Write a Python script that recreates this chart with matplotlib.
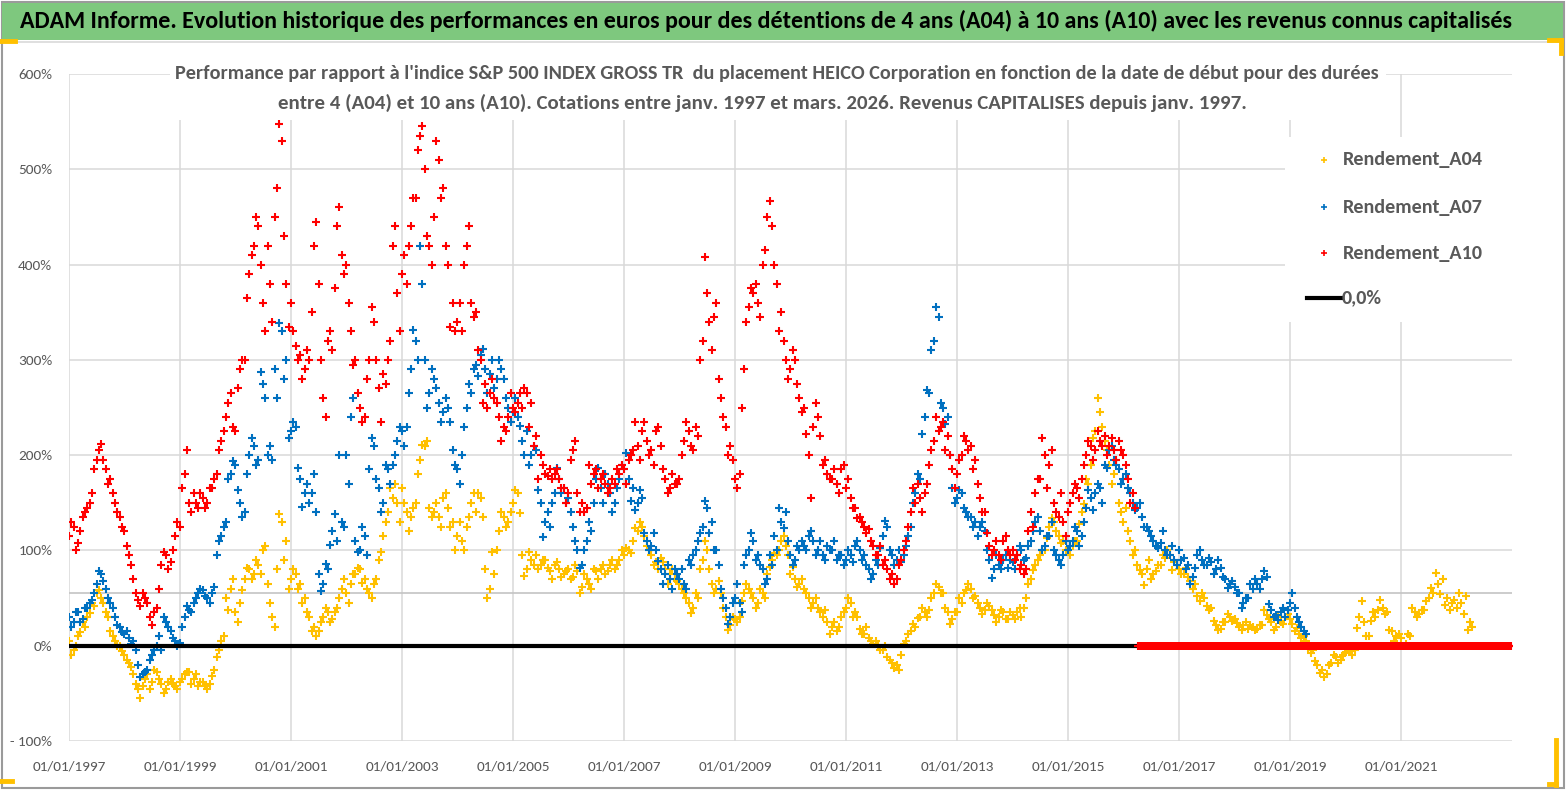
import matplotlib
matplotlib.use('Agg')
import matplotlib.pyplot as plt
import matplotlib.dates as mdates
from matplotlib.lines import Line2D
from matplotlib.patches import Rectangle
import pandas as pd
from datetime import datetime

# readings (in %) at the start of each month, from January 1997
a04 = [5, -5, 10, 25, 30, 45, 55, 50, 35, 15, 5, 0,
       -10, -18, -30, -45, -42, -30, -38, -28, -40, -45, -35, -42,
       -38, -30, -28, -35, -42, -38, -45, -32, -12, 5, 50, 60,
       35, 45, 70, 80, 75, 85, 100, 65, 30, 80, 130, 110,
       70, 75, 65, 50, 30, 20, 15, 30, 35, 28, 40, 60,
       55, 65, 75, 80, 70, 55, 65, 90, 115, 140, 155, 150,
       165, 140, 135, 150, 195, 210, 145, 140, 135, 155, 145, 130,
       115, 110, 125, 150, 140, 155, 80, 60, 75, 120, 135, 130,
       150, 160, 95, 80, 90, 95, 85, 90, 78, 85, 80, 75,
       80, 72, 78, 62, 70, 60, 78, 80, 75, 85, 80, 90,
       95, 100, 110, 120, 125, 105, 95, 88, 92, 80, 75, 70,
       65, 55, 45, 40, 50, 90, 100, 65, 60, 55, 30, 22,
       28, 30, 55, 60, 50, 45, 55, 75, 90, 95, 110, 105,
       75, 70, 65, 60, 50, 45, 40, 30, 25, 20, 15, 30,
       40, 45, 35, 18, 12, 8, 2, 0, -5, -12, -18, -20,
       -10, 5, 15, 20, 30, 35, 38, 55, 62, 55, 35, 28,
       35, 45, 58, 60, 52, 40, 38, 42, 32, 30, 35, 28,
       32, 35, 30, 50, 70, 85, 95, 100, 125, 130, 115, 110,
       100, 105, 110, 140, 175, 190, 225, 245, 215, 190, 180, 150,
       130, 120, 95, 85, 75, 80, 70, 78, 85, 92, 95, 88,
       80, 75, 72, 60, 52, 55, 42, 40, 22, 18, 25, 30,
       28, 20, 22, 18, 20, 18, 22, 32, 25, 20, 25, 30,
       28, 15, 12, 10, -2, -5, -20, -25, -30, -18, -12, -15,
       -8, -6, -5, 30, 25, 10, 35, 38, 40, 35, 15, 10,
       8, 2, 10, 35, 33, 38, 50, 55, 65, 70, 50, 45,
       40, 45, 52, 25]

# readings around the middle of each month
a04_mid = [-10, 0, 14, 20, 34, 42, 58, 45, 30, 10, 0, -6,
           -15, -22, -40, -55, -35, -45, -25, -35, -50, -38, -40, -45,
           -35, -28, -40, -30, -38, -42, -40, -25, -5, 10, 38, 70,
           25, 58, 82, 70, 90, 75, 105, 45, 20, 138, 90, 60,
           80, 60, 45, 35, 15, 10, 25, 40, 25, 35, 50, 70,
           45, 75, 82, 66, 60, 50, 70, 98, 130, 165, 170, 130,
           150, 120, 145, 180, 211, 215, 135, 150, 125, 160, 125, 100,
           130, 100, 135, 160, 160, 135, 50, 98, 100, 140, 125, 140,
           163, 139, 73, 98, 85, 80, 90, 82, 70, 88, 72, 78,
           70, 85, 55, 75, 65, 80, 70, 85, 78, 90, 85, 100,
           103, 97, 124, 130, 115, 100, 85, 80, 88, 65, 80, 68,
           60, 50, 34, 55, 80, 110, 80, 55, 68, 40, 16, 30,
           25, 47, 65, 55, 40, 60, 50, 83, 97, 100, 115, 95,
           83, 62, 70, 55, 40, 50, 35, 37, 12, 25, 20, 35,
           50, 30, 30, 12, 20, 5, 5, -5, 0, -15, -23, -25,
           2, 12, 23, 29, 40, 30, 50, 65, 55, 40, 23, 35,
           50, 55, 65, 50, 45, 33, 45, 38, 25, 38, 28, 35,
           28, 40, 40, 65, 79, 90, 100, 113, 134, 120, 108, 100,
           95, 110, 128, 149, 170, 218, 260, 230, 205, 170, 195, 140,
           145, 110, 100, 79, 64, 90, 75, 85, 95, 100, 79, 85,
           75, 82, 68, 65, 47, 50, 37, 26, 16, 25, 33, 26,
           24, 17, 25, 22, 17, 22, 37, 28, 17, 30, 23, 33,
           23, 19, 8, 5, -8, -16, -29, -33, -20, -10, -18, -10,
           -5, -10, 19, 47, 10, 26, 30, 48, 33, 16, 5, 12,
           0, 12, 40, 30, 37, 47, 61, 76, 54, 43, 37, 48,
           55, 33, 16, 20]

a07 = [30, 25, 35, 28, 40, 48, 65, 75, 60, 45, 30, 20,
       12, 8, 5, -20, -30, -25, -10, 0, -5, 25, 15, 5,
       3, 30, 38, 45, 55, 58, 50, 55, 95, 115, 130, 180,
       190, 150, 140, 200, 210, 195, 275, 200, 195, 260, 330, 300,
       225, 230, 175, 160, 150, 180, 75, 65, 80, 120, 110, 130,
       200, 240, 110, 100, 115, 185, 210, 165, 150, 185, 190, 215,
       225, 230, 290, 320, 420, 300, 265, 280, 255, 245, 250, 205,
       185, 200, 250, 265, 295, 305, 290, 285, 270, 300, 280, 250,
       245, 240, 215, 225, 200, 205, 150, 130, 125, 160, 175, 165,
       155, 125, 100, 85, 110, 120, 175, 165, 180, 160, 150, 175,
       185, 175, 165, 150, 155, 110, 105, 100, 80, 75, 70, 80,
       70, 65, 90, 95, 110, 125, 145, 130, 100, 60, 40, 30,
       50, 45, 85, 100, 110, 95, 80, 70, 85, 100, 130, 140,
       95, 90, 100, 105, 115, 110, 100, 95, 105, 100, 90, 95,
       90, 95, 105, 100, 95, 80, 75, 85, 115, 125, 95, 90,
       88, 105, 125, 160, 175, 240, 265, 320, 345, 250, 240, 165,
       155, 160, 140, 135, 130, 125, 120, 90, 80, 85, 90, 82,
       88, 95, 100, 92, 110, 130, 120, 105, 115, 100, 90, 95,
       100, 110, 120, 115, 145, 155, 160, 165, 190, 205, 195, 185,
       175, 165, 150, 145, 135, 125, 115, 105, 108, 100, 95, 90,
       100, 92, 85, 72, 95, 90, 85, 88, 80, 82, 70, 65,
       62, 55, 45, 50, 60, 65, 70, 72, 38, 32, 35, 30,
       45, 40, 25, 15]

a07_mid = [20, 35, 25, 40, 45, 55, 78, 68, 50, 40, 22, 14,
           15, 2, -5, -33, -28, -15, -5, 10, 30, 20, 8, 0,
           20, 42, 35, 50, 60, 52, 45, 62, 110, 125, 175, 194,
           163, 135, 180, 218, 190, 287, 260, 210, 290, 339, 280, 218,
           235, 187, 146, 170, 160, 140, 57, 86, 106, 138, 200, 125,
           170, 260, 98, 125, 95, 218, 175, 140, 190, 170, 200, 230,
           210, 265, 331, 300, 380, 250, 290, 270, 235, 260, 235, 190,
           170, 230, 275, 290, 283, 311, 265, 300, 280, 290, 260, 235,
           260, 231, 200, 190, 210, 163, 114, 140, 150, 187, 160, 150,
           140, 110, 82, 100, 130, 150, 187, 150, 170, 140, 165, 190,
           202, 152, 142, 163, 118, 100, 118, 89, 65, 85, 60, 75,
           80, 60, 85, 100, 118, 152, 118, 100, 85, 50, 23, 45,
           65, 35, 95, 118, 90, 85, 65, 95, 115, 145, 124, 110,
           85, 105, 110, 100, 120, 95, 110, 90, 100, 110, 95, 85,
           100, 88, 110, 90, 85, 70, 90, 103, 131, 100, 85, 100,
           95, 115, 150, 180, 222, 268, 310, 355, 255, 233, 200, 150,
           163, 145, 135, 125, 115, 130, 100, 71, 95, 80, 95, 90,
           80, 105, 90, 105, 120, 135, 100, 115, 130, 95, 85, 110,
           105, 125, 105, 130, 163, 142, 170, 150, 187, 210, 190, 170,
           180, 160, 142, 150, 125, 120, 110, 103, 120, 95, 105, 85,
           90, 80, 65, 82, 100, 85, 92, 75, 90, 72, 61, 68,
           55, 40, 50, 65, 70, 60, 78, 44, 30, 27, 40, 37,
           55, 30, 20, 12]

a10 = [115, 125, 108, 135, 145, 160, 195, 212, 185, 175, 150, 135,
       120, 95, 70, 48, 55, 45, 22, 40, 85, 95, 88, 115,
       125, 180, 150, 160, 145, 155, 150, 165, 180, 215, 240, 265,
       225, 290, 300, 390, 420, 440, 360, 420, 340, 480, 530, 380,
       360, 315, 305, 290, 300, 420, 380, 260, 320, 310, 440, 410,
       400, 330, 300, 250, 240, 300, 340, 270, 285, 300, 420, 370,
       390, 380, 440, 470, 535, 500, 420, 450, 510, 480, 400, 360,
       340, 330, 420, 360, 350, 300, 275, 265, 260, 240, 230, 240,
       250, 255, 250, 265, 255, 220, 200, 180, 185, 180, 175, 165,
       160, 205, 160, 150, 145, 170, 185, 175, 170, 165, 170, 180,
       185, 195, 205, 210, 225, 215, 205, 225, 210, 175, 165, 170,
       175, 215, 225, 205, 220, 320, 370, 310, 360, 260, 230, 210,
       175, 180, 290, 355, 370, 360, 400, 450, 440, 380, 350, 300,
       290, 300, 260, 250, 200, 230, 240, 190, 180, 175, 170, 185,
       165, 155, 145, 135, 125, 122, 105, 95, 85, 80, 75, 70,
       90, 110, 140, 150, 155, 160, 190, 215, 225, 235, 220, 185,
       180, 200, 215, 210, 195, 155, 140, 105, 100, 95, 110, 100,
       100, 95, 85, 80, 140, 160, 175, 200, 190, 150, 135, 130,
       140, 160, 165, 175, 200, 210, 205, 215, 220, 210, 205, 215,
       200, 175, 160]

a10_mid = [130, 100, 120, 140, 150, 185, 205, 195, 170, 160, 140, 125,
           105, 85, 55, 42, 50, 30, 35, 60, 98, 80, 100, 130,
           165, 205, 140, 150, 160, 145, 165, 175, 205, 225, 255, 230,
           270, 300, 365, 410, 450, 400, 330, 380, 450, 548, 430, 335,
           330, 300, 280, 310, 350, 445, 300, 240, 330, 375, 460, 390,
           360, 295, 265, 235, 280, 355, 300, 235, 275, 320, 440, 330,
           410, 420, 470, 520, 545, 430, 400, 530, 470, 420, 335, 330,
           360, 400, 440, 345, 310, 255, 250, 280, 255, 215, 225, 265,
           245, 265, 270, 230, 210, 175, 190, 178, 175, 185, 165, 150,
           195, 215, 140, 140, 190, 180, 165, 180, 160, 175, 185, 190,
           170, 200, 235, 195, 235, 200, 190, 230, 185, 160, 180, 170,
           200, 235, 210, 230, 300, 408, 340, 345, 280, 240, 200, 195,
           165, 250, 340, 375, 380, 345, 415, 467, 400, 330, 320, 280,
           310, 275, 245, 222, 155, 255, 220, 195, 175, 185, 160, 190,
           175, 145, 134, 130, 118, 110, 95, 105, 90, 70, 65, 85,
           100, 125, 165, 170, 140, 170, 205, 240, 230, 205, 200, 165,
           195, 220, 205, 185, 170, 140, 118, 95, 110, 90, 115, 95,
           90, 80, 75, 120, 125, 175, 218, 165, 205, 140, 160, 115,
           150, 170, 155, 190, 215, 195, 225, 210, 200, 218, 195, 205,
           190, 150, 145]

# no 10-year window after spring 2016: the series is reported at 0
a10_zero_dates = pd.date_range('2016-04-01', '2022-12-31', freq='W')
a10_zero = [0] * len(a10_zero_dates)

ref_level = 55.7  # grey horizontal line
zero_line_dates = [datetime(1997, 1, 1), datetime(2016, 4, 1)]
zero_line_vals = [0, 0]

half_month = pd.Timedelta(days=15)
a04_dates = pd.date_range('1997-01-01', periods=len(a04), freq='MS')
a07_dates = pd.date_range('1997-01-01', periods=len(a07), freq='MS')
a10_dates = pd.date_range('1997-01-01', periods=len(a10), freq='MS')
a04_mid_dates = pd.date_range('1997-01-01', periods=len(a04_mid), freq='MS') + half_month
a07_mid_dates = pd.date_range('1997-01-01', periods=len(a07_mid), freq='MS') + half_month
a10_mid_dates = pd.date_range('1997-01-01', periods=len(a10_mid), freq='MS') + half_month

yticks = [-100, 0, 100, 200, 300, 400, 500, 600]
ylabels = ['- 100%', '0%', '100%', '200%', '300%', '400%', '500%', '600%']
xticks = [datetime(y, 1, 1) for y in range(1997, 2022, 2)]

title = ("ADAM Informe. Evolution historique des performances en euros pour des "
         "détentions de 4 ans (A04) à 10 ans (A10) avec les revenus connus capitalisés")
sub1 = ("Performance par rapport à l'indice S&P 500 INDEX GROSS TR  du placement HEICO "
        "Corporation en fonction de la date de début pour des durées")
sub2 = ("entre 4 (A04) et 10 ans (A10). Cotations entre janv. 1997 et mars. 2026. "
        "Revenus CAPITALISES depuis janv. 1997.")

YEL, BLU, RED = '#FFC000', '#0070C0', '#FF0000'
GREY = '#595959'

plt.rcParams['font.family'] = ['Carlito', 'Liberation Sans Narrow', 'DejaVu Sans']

W, H = 1567, 790
fig = plt.figure(figsize=(W / 100, H / 100), dpi=100)


def fx(px):
    return px / W


def fy(py):
    return 1 - py / H


ax = fig.add_axes([fx(69), fy(741), fx(1512) - fx(69), fy(74) - fy(741)])

mk = dict(linestyle='none', marker='+', ms=6, mew=1.5)
ax.plot(a04_dates, a04, color=YEL, **mk)
ax.plot(a04_mid_dates, a04_mid, color=YEL, **mk)
ax.plot(a07_dates, a07, color=BLU, **mk)
ax.plot(a07_mid_dates, a07_mid, color=BLU, **mk)
ax.plot(a10_dates, a10, color=RED, **mk)
ax.plot(a10_mid_dates, a10_mid, color=RED, **mk)
ax.plot(zero_line_dates, zero_line_vals, color='black', lw=3, zorder=4)
ax.plot(a10_zero_dates, a10_zero, color=RED, zorder=5, linestyle='none', marker='+',
        ms=5.5, mew=1.5)
ax.axhline(ref_level, color='#c4c4c4', lw=1.2, zorder=1)

ax.set_xlim(datetime(1997, 1, 1), datetime(2023, 1, 1))
ax.set_ylim(-100, 600)
ax.set_yticks(yticks)
ax.set_yticklabels(ylabels)
ax.set_xticks(xticks)
ax.xaxis.set_major_formatter(mdates.DateFormatter('%d/%m/%Y'))
ax.grid(True, color='#d9d9d9', lw=1.1)
ax.set_axisbelow(True)
for s in ax.spines.values():
    s.set_visible(False)
ax.tick_params(length=0, labelsize=11, labelcolor=GREY)
ax.tick_params(axis='y', pad=12)
ax.tick_params(axis='x', pad=14)

# frame, header band and corner marks
fig.add_artist(Rectangle((0.001, 0.002), 0.997, 0.996, transform=fig.transFigure,
                         fill=False, edgecolor='#9a9a9a', lw=1.5))
fig.add_artist(Rectangle((fx(2), fy(40)), fx(1563) - fx(2), fy(3) - fy(40),
                         transform=fig.transFigure, facecolor='#7EC87E', edgecolor='none'))
fig.add_artist(Line2D([fx(2), fx(1563)], [fy(42), fy(42)], transform=fig.transFigure,
                      color='#d9d9d9', lw=1.2))
for xs, ys in [([0, 15], [41, 41]), ([1549, 1561], [40, 40]), ([1561, 1561], [40, 53]),
               ([0, 12], [781, 781]), ([1556, 1556], [740, 785]), ([1549, 1556], [784, 784])]:
    fig.add_artist(Line2D([fx(v) for v in xs], [fy(v) for v in ys],
                          transform=fig.transFigure, color=YEL, lw=3.5))

r = fig.canvas.get_renderer()


def fit_width(t, target):
    w = t.get_window_extent(renderer=r).width
    t.set_fontsize(t.get_fontsize() * target / w)


t0 = fig.text(fx(766), fy(21), title, ha='center', va='center', fontweight='bold',
              color='black', fontsize=16)
fit_width(t0, 1497)

# subtitle box over the plot
fig.add_artist(Rectangle((fx(170), fy(120)), fx(1386) - fx(170), fy(57) - fy(120),
                         transform=fig.transFigure, facecolor='white', edgecolor='none',
                         zorder=3))
t1 = fig.text(fx(777), fy(74), sub1, ha='center', va='center', fontweight='bold',
              color=GREY, fontsize=12, zorder=4)
fit_width(t1, 1204)
t2 = fig.text(fx(762), fy(103), sub2, ha='center', va='center', fontweight='bold',
              color=GREY, fontsize=12, zorder=4)
fit_width(t2, 966)

# legend
fig.add_artist(Rectangle((fx(1285), fy(322)), fx(1515) - fx(1285), fy(137) - fy(322),
                         transform=fig.transFigure, facecolor='white', edgecolor='none',
                         zorder=3))
labels = ['Rendement_A04', 'Rendement_A07', 'Rendement_A10']
for lab, col, yy in zip(labels, [YEL, BLU, RED], [160, 207, 253]):
    fig.add_artist(Line2D([fx(1324)], [fy(yy)], transform=fig.transFigure, marker='+',
                          ms=5, mew=1.2, color=col, linestyle='none', zorder=4))
    tl = fig.text(fx(1343), fy(yy), lab, ha='left', va='center', fontweight='bold',
                  color=GREY, fontsize=13, zorder=4)
    fit_width(tl, 140)
fs_leg = tl.get_fontsize()
fig.add_artist(Line2D([fx(1307), fx(1341)], [fy(298), fy(298)], transform=fig.transFigure,
                      color='black', lw=3, zorder=4))
fig.text(fx(1342), fy(298), '0,0%', ha='left', va='center', fontweight='bold',
         color=GREY, fontsize=fs_leg, zorder=4)

fig.savefig('out.png', dpi=100)
